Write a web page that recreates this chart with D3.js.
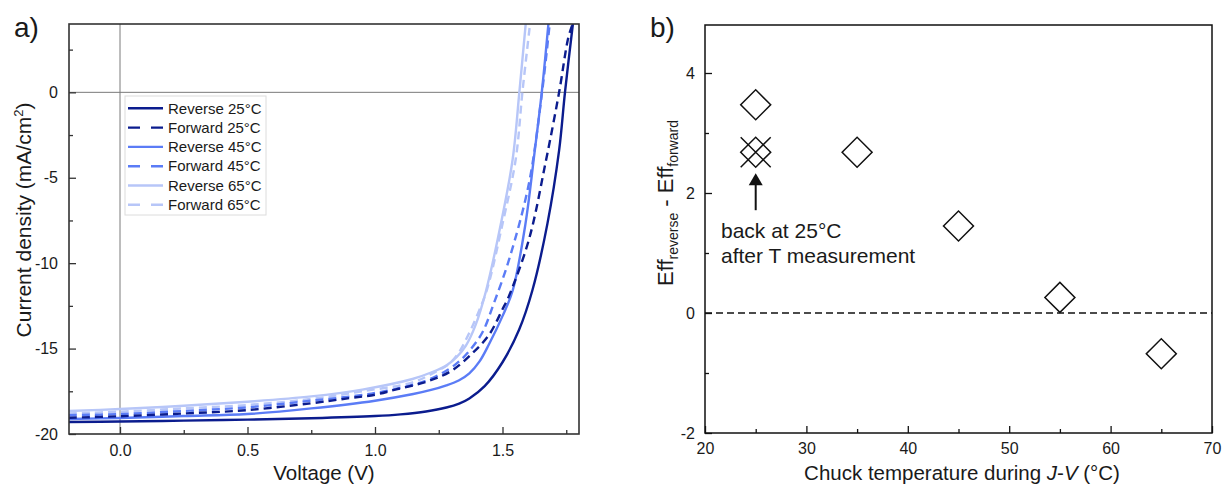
<!DOCTYPE html>
<html>
<head>
<meta charset="utf-8">
<script src="https://cdn.jsdelivr.net/npm/d3@7"></script>
<style>
body{margin:0;background:#fff;}
svg{font-family:"Liberation Sans", Arial, sans-serif;}
</style>
</head>
<body>
<svg id="fig" width="1230" height="486"></svg>
<script>
// panel a : J-V curves, [voltage (V), current density (mA/cm2)]
const reverse25 = [[-0.2,-19.3],[0,-19.27],[0.25,-19.22],[0.5,-19.16],[0.75,-19.08],[1.0,-18.95],[1.1,-18.85],[1.2,-18.68],[1.28,-18.45],[1.33,-18.22],[1.37,-17.92],[1.43,-17.2],[1.5,-15.8],[1.565,-13.9],[1.617,-11.6],[1.676,-7.7],[1.722,-3.4],[1.745,0],[1.776,4]];
const forward25 = [[-0.2,-19.05],[0,-18.96],[0.25,-18.8],[0.5,-18.6],[0.75,-18.2],[0.9,-17.9],[1.0,-17.7],[1.08,-17.4],[1.21,-16.9],[1.3,-16.3],[1.38,-15.3],[1.447,-14.2],[1.5,-12.7],[1.526,-11.9],[1.604,-8.6],[1.669,-4.1],[1.722,0],[1.758,3.2],[1.775,4]];
const reverse45 = [[-0.2,-19.12],[0,-19.06],[0.25,-18.95],[0.5,-18.83],[0.75,-18.5],[1.0,-18.05],[1.15,-17.66],[1.22,-17.42],[1.28,-17.15],[1.33,-16.85],[1.37,-16.45],[1.41,-15.75],[1.447,-14.75],[1.5,-13.1],[1.54,-11.6],[1.59,-7.7],[1.625,-3.6],[1.654,0],[1.68,4]];
const forward45 = [[-0.2,-18.9],[0,-18.83],[0.25,-18.65],[0.5,-18.44],[0.75,-18.05],[1.0,-17.6],[1.2,-16.88],[1.29,-16.2],[1.33,-15.75],[1.37,-15.13],[1.421,-14.06],[1.467,-12.31],[1.526,-9.78],[1.604,-5.31],[1.655,0],[1.685,4]];
const reverse65 = [[-0.2,-18.65],[0,-18.54],[0.25,-18.35],[0.5,-18.11],[0.75,-17.8],[0.95,-17.4],[1.147,-16.78],[1.22,-16.4],[1.278,-16.0],[1.32,-15.5],[1.356,-14.84],[1.395,-13.6],[1.434,-11.7],[1.493,-7.74],[1.54,-3.9],[1.566,0],[1.591,4]];
const forward65 = [[-0.2,-18.8],[0,-18.69],[0.25,-18.5],[0.5,-18.3],[0.75,-17.95],[0.95,-17.5],[1.147,-16.98],[1.239,-16.35],[1.29,-15.9],[1.33,-15.2],[1.369,-14.1],[1.405,-12.9],[1.44,-11.5],[1.5,-7.7],[1.552,-3.9],[1.578,0],[1.608,4]];
const curveNames = ['Reverse 25°C', 'Forward 25°C', 'Reverse 45°C', 'Forward 45°C', 'Reverse 65°C', 'Forward 65°C'];
const voltTicks = [0, 0.5, 1.0, 1.5];
const voltMinor = [0.25, 0.75, 1.25, 1.75];
const jTicks = [0, -5, -10, -15, -20];
const jMinor = [2.5, -2.5, -7.5, -12.5, -17.5];

// panel b : hysteresis vs chuck temperature
const chuckTemp = [25, 35, 45, 55, 65];
const effDiff = [3.47, 2.68, 1.45, 0.26, -0.68];
const backTemp = [25];
const backDiff = [2.68];
const tempTicks = [20, 30, 40, 50, 60, 70];
const tempMinor = [25, 35, 45, 55, 65];
const diffTicks = [4, 2, 0, -2];
const diffMinor = [3, 1, -1];

var svg = d3.select('#fig');

var boxA = {left: 69, right: 579, top: 24, bottom: 434};
var boxB = {left: 705, right: 1212, top: 25, bottom: 433};

function styleAxis(g, size, col) {
    g.attr('font-family', null).attr('font-size', size);
    g.select('.domain').remove();
    g.selectAll('.tick line').attr('stroke', col).attr('stroke-width', 1.3);
    g.selectAll('.tick text').attr('fill', '#1a1a1a');
}

/**
 * panel a
 */
var xA = d3.scaleLinear().domain([-0.2, 1.8]).range([boxA.left, boxA.right]);
var yA = d3.scaleLinear().domain([-20, 4]).range([boxA.bottom, boxA.top]);
var gA = svg.append('g');

gA.append('clipPath').attr('id', 'clipA').append('rect')
    .attr('x', boxA.left).attr('y', boxA.top)
    .attr('width', boxA.right - boxA.left).attr('height', boxA.bottom - boxA.top);

// zero lines
gA.append('line').attr('x1', xA(0)).attr('x2', xA(0)).attr('y1', boxA.top).attr('y2', boxA.bottom)
    .attr('stroke', '#7a7a7a').attr('stroke-width', 1);
gA.append('line').attr('x1', boxA.left).attr('x2', boxA.right).attr('y1', yA(0)).attr('y2', yA(0))
    .attr('stroke', '#7a7a7a').attr('stroke-width', 1);

var seriesData = [reverse25, forward25, reverse45, forward45, reverse65, forward65];
var couleurs = ['#0b1c8e', '#0b1c8e', '#5b7cf6', '#5b7cf6', '#b7c6f8', '#b7c6f8'];
var pointilles = [false, true, false, true, false, true];

var ligne = d3.line().x(d => xA(d[0])).y(d => yA(d[1])).curve(d3.curveCatmullRom.alpha(0.5));

var series = seriesData.map((d, i) => ({vals: d, name: curveNames[i], col: couleurs[i], dash: pointilles[i]}));

gA.append('g').attr('clip-path', 'url(#clipA)')
    .selectAll('path').data(series.slice().reverse()).enter().append('path')
    .attr('d', d => ligne(d.vals))
    .attr('fill', 'none')
    .attr('stroke', d => d.col)
    .attr('stroke-width', 2.4)
    .attr('stroke-dasharray', d => d.dash ? '8,5' : null);

// axes a
gA.append('g').attr('transform', `translate(0,${boxA.bottom})`)
    .call(d3.axisBottom(xA).tickValues(voltTicks).tickFormat(d3.format('.1f')).tickSize(-7).tickPadding(11))
    .call(g => styleAxis(g, 16, '#333'));
gA.append('g').attr('transform', `translate(0,${boxA.bottom})`)
    .call(d3.axisBottom(xA).tickValues(voltMinor).tickFormat('').tickSize(-4))
    .call(g => styleAxis(g, 16, '#333'));
gA.append('g').attr('transform', `translate(${boxA.left},0)`)
    .call(d3.axisLeft(yA).tickValues(jTicks).tickFormat(d => String(d)).tickSize(-7).tickPadding(11))
    .call(g => styleAxis(g, 16, '#333'));
gA.append('g').attr('transform', `translate(${boxA.left},0)`)
    .call(d3.axisLeft(yA).tickValues(jMinor).tickFormat('').tickSize(-4))
    .call(g => styleAxis(g, 16, '#333'));

gA.append('rect').attr('x', boxA.left).attr('y', boxA.top)
    .attr('width', boxA.right - boxA.left).attr('height', boxA.bottom - boxA.top)
    .attr('fill', 'none').attr('stroke', '#333').attr('stroke-width', 1.6);

// legend
var leg = gA.append('g').attr('transform', 'translate(125,96)');
leg.append('rect').attr('width', 141).attr('height', 119)
    .attr('fill', '#fff').attr('stroke', '#dcdcdc').attr('stroke-width', 1);
var items = leg.selectAll('g.item').data(series).enter().append('g')
    .attr('transform', (d, i) => `translate(0,${12.3 + i * 19.3})`);
items.append('line').attr('x1', 3).attr('x2', 38)
    .attr('stroke', d => d.col).attr('stroke-width', 2.4)
    .attr('stroke-dasharray', d => d.dash ? '12,11' : null);
items.append('text').attr('x', 43).attr('dy', '0.35em')
    .attr('font-size', 15).attr('fill', '#1a1a1a').text(d => d.name);

// titles a
gA.append('text').attr('x', (boxA.left + boxA.right) / 2).attr('y', 480)
    .attr('text-anchor', 'middle').attr('font-size', 20.5).attr('fill', '#1a1a1a').text('Voltage (V)');
var tY = gA.append('text').attr('transform', 'translate(31,220) rotate(-90)')
    .attr('text-anchor', 'middle').attr('font-size', 21).attr('fill', '#1a1a1a');
tY.append('tspan').text('Current density (mA/cm');
tY.append('tspan').attr('font-size', 13).attr('dy', -8).text('2');
tY.append('tspan').attr('dy', 8).text(')');
gA.append('text').attr('x', 14).attr('y', 37).attr('font-size', 28).attr('fill', '#1a1a1a').text('a)');

/**
 * panel b
 */
var xB = d3.scaleLinear().domain([20, 70]).range([boxB.left, boxB.right]);
var yB = d3.scaleLinear().domain([-2, 4.8]).range([boxB.bottom, boxB.top]);
var gB = svg.append('g');

gB.append('line').attr('x1', boxB.left).attr('x2', boxB.right).attr('y1', yB(0)).attr('y2', yB(0))
    .attr('stroke', '#111').attr('stroke-width', 1.3).attr('stroke-dasharray', '7,4');

gB.append('g').attr('transform', `translate(0,${boxB.bottom})`)
    .call(d3.axisBottom(xB).tickValues(tempTicks).tickSize(-7).tickPadding(10))
    .call(g => styleAxis(g, 16, '#111'));
gB.append('g').attr('transform', `translate(0,${boxB.bottom})`)
    .call(d3.axisBottom(xB).tickValues(tempMinor).tickFormat('').tickSize(-4))
    .call(g => styleAxis(g, 16, '#111'));
gB.append('g').attr('transform', `translate(${boxB.left},0)`)
    .call(d3.axisLeft(yB).tickValues(diffTicks).tickFormat(d => String(d)).tickSize(-7).tickPadding(10))
    .call(g => styleAxis(g, 16, '#111'));
gB.append('g').attr('transform', `translate(${boxB.left},0)`)
    .call(d3.axisLeft(yB).tickValues(diffMinor).tickFormat('').tickSize(-4))
    .call(g => styleAxis(g, 16, '#111'));

gB.append('rect').attr('x', boxB.left).attr('y', boxB.top)
    .attr('width', boxB.right - boxB.left).attr('height', boxB.bottom - boxB.top)
    .attr('fill', 'none').attr('stroke', '#111').attr('stroke-width', 1.5);

// diamonds
var losange = d3.symbol().type(d3.symbolSquare).size(450);
gB.selectAll('path.diam').data(chuckTemp).enter().append('path')
    .attr('class', 'diam')
    .attr('d', losange)
    .attr('transform', (d, i) => `translate(${xB(d)},${yB(effDiff[i])}) rotate(45)`)
    .attr('fill', 'none').attr('stroke', '#111').attr('stroke-width', 1.5);

// back at 25°C : cross over diamond
var r = 15;
var back = gB.selectAll('g.back').data(backTemp).enter().append('g')
    .attr('transform', (d, i) => `translate(${xB(d)},${yB(backDiff[i])})`);
back.append('path').attr('d', losange).attr('transform', 'rotate(45)')
    .attr('fill', 'none').attr('stroke', '#111').attr('stroke-width', 1.5);
back.append('path').attr('d', `M${-r},${-r}L${r},${r}M${-r},${r}L${r},${-r}`)
    .attr('fill', 'none').attr('stroke', '#111').attr('stroke-width', 1.5);

// arrow + annotation
var ax = xB(backTemp[0]);
var ay = yB(backDiff[0]);
gB.append('line').attr('x1', ax).attr('x2', ax).attr('y1', ay + 58).attr('y2', ay + 30)
    .attr('stroke', '#111').attr('stroke-width', 2);
gB.append('path').attr('d', `M${ax},${ay + 21}L${ax + 7},${ay + 33}L${ax - 7},${ay + 33}Z`).attr('fill', '#111');
gB.append('text').attr('x', 721).attr('y', 238).attr('font-size', 21).attr('fill', '#1a1a1a').text('back at 25°C');
gB.append('text').attr('x', 721).attr('y', 263).attr('font-size', 21).attr('fill', '#1a1a1a').text('after T measurement');

// titles b
var tXB = gB.append('text').attr('x', 962).attr('y', 480)
    .attr('text-anchor', 'middle').attr('font-size', 20.5).attr('fill', '#1a1a1a');
tXB.append('tspan').text('Chuck temperature during ');
tXB.append('tspan').attr('font-style', 'italic').text('J');
tXB.append('tspan').text('-');
tXB.append('tspan').attr('font-style', 'italic').text('V');
tXB.append('tspan').text(' (°C)');

var tYB = gB.append('text').attr('transform', 'translate(673,203) rotate(-90)')
    .attr('text-anchor', 'middle').attr('font-size', 22).attr('fill', '#1a1a1a');
tYB.append('tspan').text('Eff');
tYB.append('tspan').attr('font-size', 14).attr('dy', 5).text('reverse');
tYB.append('tspan').attr('dy', -5).text(' - Eff');
tYB.append('tspan').attr('font-size', 14).attr('dy', 5).text('forward');

gB.append('text').attr('x', 650).attr('y', 37).attr('font-size', 28).attr('fill', '#1a1a1a').text('b)');
</script>
</body>
</html>
